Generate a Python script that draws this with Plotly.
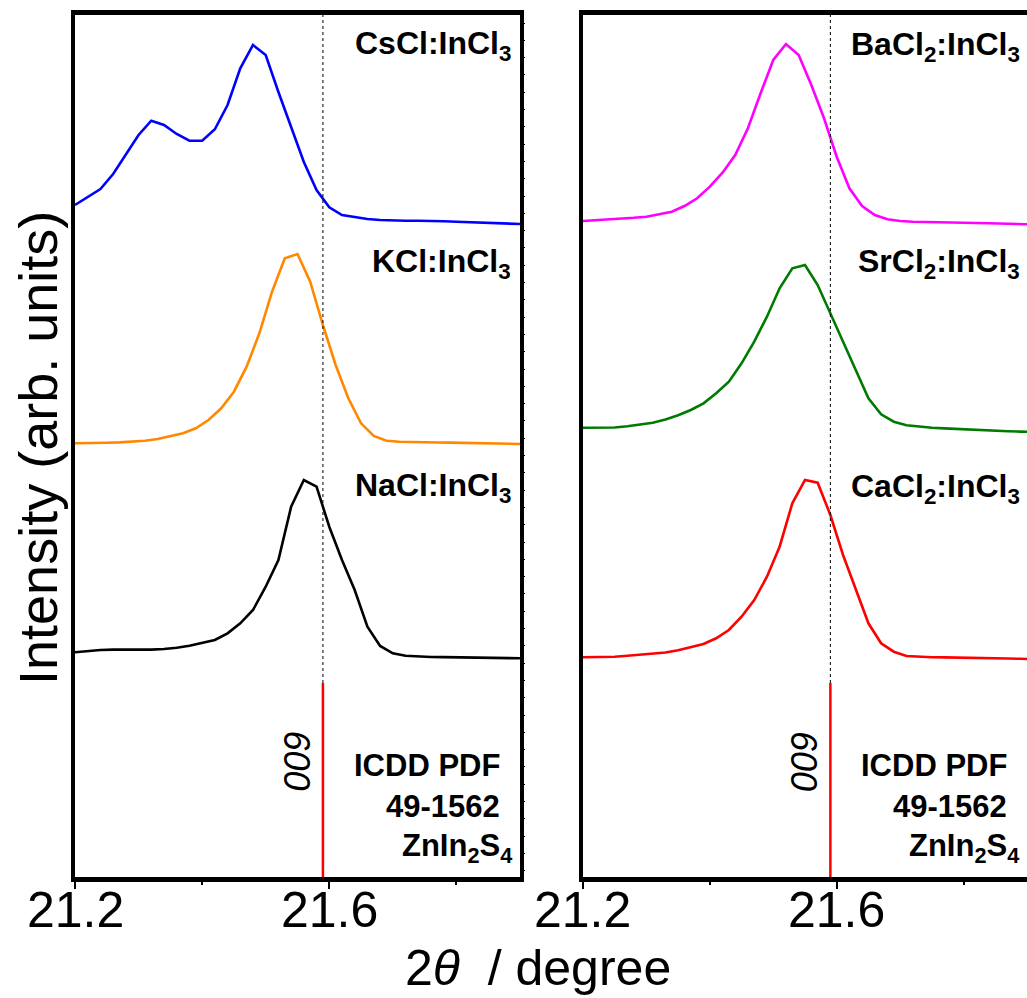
import plotly.graph_objects as go

# ---------------- data ----------------
X_EVEN = [21.20, 21.22, 21.24, 21.26, 21.28, 21.30, 21.32, 21.34, 21.36, 21.38,
          21.40, 21.42, 21.44, 21.46, 21.48, 21.50, 21.52, 21.54, 21.56, 21.58,
          21.60, 21.62, 21.64, 21.66, 21.68, 21.70, 21.72, 21.74, 21.76, 21.78,
          21.80, 21.82, 21.84, 21.86, 21.88, 21.90]
X_ODD = [21.20, 21.21, 21.23, 21.25, 21.27, 21.29, 21.31, 21.33, 21.35, 21.37,
         21.39, 21.41, 21.43, 21.45, 21.47, 21.49, 21.51, 21.53, 21.55, 21.57,
         21.59, 21.61, 21.63, 21.65, 21.67, 21.69, 21.71, 21.73, 21.75, 21.77,
         21.79, 21.81, 21.83, 21.85, 21.87, 21.89, 21.90]

cscl = [19, 26.7, 35, 50, 70, 89, 103.3, 99, 90, 83.3, 83.3, 94.7, 119, 155.7,
        179, 169, 132, 97, 62, 34, 16.7, 9, 6.7, 5, 4, 3.5, 3.3, 3.3, 3.3, 2.7,
        2.2, 1.7, 1.3, 0.9, 0.6, 0]
kcl = [0.7, 0.7, 0.9, 1.2, 1.6, 2.2, 3.2, 5.0, 7.5, 10.7, 15.7, 24, 35.7, 52.3,
       77.3, 110.7, 152.3, 185.7, 190, 162.3, 119, 79, 45.7, 20.7, 8, 3.3, 2.2,
       1.8, 1.6, 1.5, 1.4, 1.2, 1.0, 0.7, 0.4, 0.1, 0]
nacl = [6, 7.3, 8.3, 8.7, 8.5, 8.5, 8.7, 9.3, 10.5, 12.5, 15.5, 18.3, 25, 35,
        48.3, 71.6, 98.3, 151.6, 178.3, 171.6, 131.6, 98.3, 68.3, 31.6, 12.3, 5,
        2.5, 1.6, 1.3, 1.2, 1.1, 1.0, 0.8, 0.6, 0.3, 0]
bacl2 = [3.3, 4, 4.5, 5.5, 6.5, 7.6, 10, 12.6, 18.3, 26, 37.6, 51.6, 69.3, 96,
         131, 164.3, 180.3, 169.3, 139.3, 106, 67.6, 36, 18.3, 9.3, 5, 3.3, 2.6,
         2.2, 2, 1.8, 1.6, 1.3, 1.0, 0.7, 0.3, 0]
srcl2 = [4, 4, 4, 4.2, 5.5, 7.3, 9, 12.3, 16.5, 21.7, 28.4, 38.4, 50, 68.4, 90,
         115, 143.4, 163.4, 166.7, 146.7, 118.4, 90, 63.4, 33.4, 17.4, 10, 6.5, 5,
         4, 3.3, 2.6, 1.9, 1.1, 0.6, 0.4, 0.1, 0]
cacl2 = [1.7, 1.7, 1.7, 2.3, 3.2, 4.3, 5.3, 6.5, 8.7, 11.5, 15, 20.7, 29, 42.3,
         59, 82.3, 112.3, 155.7, 179, 176.3, 144, 104, 69.7, 35.7, 15.7, 7.3, 3,
         2, 1.7, 1.6, 1.5, 1.3, 1.1, 0.8, 0.5, 0.2, 0]

labels_left = ["CsCl:InCl<sub>3</sub>", "KCl:InCl<sub>3</sub>", "NaCl:InCl<sub>3</sub>"]
labels_right = ["BaCl<sub>2</sub>:InCl<sub>3</sub>", "SrCl<sub>2</sub>:InCl<sub>3</sub>",
                "CaCl<sub>2</sub>:InCl<sub>3</sub>"]
offsets_left = [653, 433, 218.7]
offsets_right = [652.7, 445.3, 218]

ref_peak_pos = 21.59          # ZnIn2S4 (009), ICDD PDF 49-1562
ref_peak_int = 194
ref_hkl = "009"
ref_lines = ["ICDD PDF", "49-1562", "ZnIn<sub>2</sub>S<sub>4</sub>"]

x_ticks = [21.2, 21.6]
x_ticklabels = ["21.2", "21.6"]
x_minor_ticks = [21.4, 21.8]

# ---------------- styling ----------------
FONT = "Liberation Sans, Arial, sans-serif"
colors_left = ["#0000ff", "#ff8800", "#000000"]
colors_right = ["#ff00ff", "#007a00", "#ff0000"]
YMAX = 862

fig = go.Figure()

left_series = [(X_EVEN, cscl), (X_ODD, kcl), (X_EVEN, nacl)]
right_series = [(X_EVEN, bacl2), (X_ODD, srcl2), (X_ODD, cacl2)]

for (xs, ys), off, col in zip(left_series, offsets_left, colors_left):
    fig.add_trace(go.Scatter(x=xs, y=[v + off for v in ys], mode="lines",
                             line=dict(color=col, width=2.6), xaxis="x", yaxis="y",
                             showlegend=False, hoverinfo="skip"))
for (xs, ys), off, col in zip(right_series, offsets_right, colors_right):
    fig.add_trace(go.Scatter(x=xs, y=[v + off for v in ys], mode="lines",
                             line=dict(color=col, width=2.6), xaxis="x2", yaxis="y2",
                             showlegend=False, hoverinfo="skip"))

for xa, ya in (("x", "y"), ("x2", "y2")):
    fig.add_trace(go.Scatter(x=[ref_peak_pos, ref_peak_pos], y=[ref_peak_int, YMAX],
                             mode="lines", line=dict(color="black", width=1, dash="dot"),
                             xaxis=xa, yaxis=ya, showlegend=False, hoverinfo="skip"))
    fig.add_trace(go.Scatter(x=[ref_peak_pos, ref_peak_pos], y=[0, ref_peak_int],
                             mode="lines", line=dict(color="#ff0000", width=2.5),
                             xaxis=xa, yaxis=ya, showlegend=False, hoverinfo="skip"))

axis_common = dict(range=[21.2, 21.9], tickvals=x_ticks, showticklabels=False,
                   ticks="outside", ticklen=7, tickwidth=2, tickcolor="black",
                   showline=True, linewidth=4.5, linecolor="black", mirror=True,
                   showgrid=False, zeroline=False,
                   minor=dict(ticks="outside", ticklen=3, tickwidth=1.5,
                              tickcolor="black", tickvals=x_minor_ticks))

fig.update_layout(
    width=1027, height=998,
    margin=dict(l=75, r=0, t=15, b=121),
    paper_bgcolor="white", plot_bgcolor="white",
    xaxis=dict(domain=[0, 0.4674], anchor="y", **axis_common),
    xaxis2=dict(domain=[0.5336, 1.0], anchor="y2", **axis_common),
    yaxis=dict(range=[0, YMAX], showticklabels=False, ticks="", showgrid=False,
               zeroline=False, showline=True, linewidth=4, linecolor="black",
               mirror=True, anchor="x"),
    yaxis2=dict(range=[0, YMAX], showticklabels=False, ticks="", showgrid=False,
                zeroline=False, showline=True, linewidth=4, linecolor="black",
                mirror=False, anchor="x2"),
    yaxis3=dict(range=[0, YMAX], overlaying="y", anchor="x", side="right",
                showticklabels=False, ticks="outside", ticklen=4, tickwidth=1.2,
                tickcolor="black", tick0=6.3, dtick=17.3, showgrid=False,
                zeroline=False, showline=False),
)
# an invisible trace so yaxis3 is rendered
fig.add_trace(go.Scatter(x=[21.2], y=[0], xaxis="x", yaxis="y3", mode="markers",
                         marker=dict(size=0.1, color="rgba(0,0,0,0)"),
                         showlegend=False, hoverinfo="skip"))

ann = []
# x tick labels (placed close to the axis as in the reference)
for xr in ("x", "x2"):
    for tv, tt in zip(x_ticks, x_ticklabels):
        ann.append(dict(x=tv, y=-0.0383, xref=xr, yref="paper", text=tt,
                        showarrow=False, xanchor="center", yanchor="middle",
                        font=dict(family=FONT, size=50, color="black")))

lab_y = [832, 614, 390]
for txt, yy in zip(labels_left, lab_y):
    ann.append(dict(x=21.889, y=yy, xref="x", yref="y", text="<b>" + txt + "</b>",
                    showarrow=False, xanchor="right", yanchor="middle",
                    font=dict(family=FONT, size=32, color="black")))
lab_y2 = [831, 614, 389]
for txt, yy in zip(labels_right, lab_y2):
    ann.append(dict(x=21.892, y=yy, xref="x2", yref="y2", text="<b>" + txt + "</b>",
                    showarrow=False, xanchor="right", yanchor="middle",
                    font=dict(family=FONT, size=32, color="black")))

for xr, yr in (("x", "y"), ("x2", "y2")):
    for txt, xx, yy in zip(ref_lines, [21.872, 21.872, 21.891], [112, 71, 29]):
        ann.append(dict(x=xx, y=yy, xref=xr, yref=yr, text="<b>" + txt + "</b>",
                        showarrow=False, xanchor="right", yanchor="middle",
                        font=dict(family=FONT, size=31, color="black")))
    ann.append(dict(x=21.549, y=115, xref=xr, yref=yr, text="<i>" + ref_hkl + "</i>",
                    showarrow=False, xanchor="center", yanchor="middle", textangle=-90,
                    font=dict(family=FONT, size=36, color="black")))

ann.append(dict(x=-0.0389, y=0.4977, xref="paper", yref="paper",
                text="Intensity (arb. units)", textangle=-90, showarrow=False,
                xanchor="center", yanchor="middle",
                font=dict(family=FONT, size=54, color="black")))
ann.append(dict(x=0.486, y=-0.106, xref="paper", yref="paper",
                text="2<i>θ</i>  / degree", showarrow=False,
                xanchor="center", yanchor="middle",
                font=dict(family=FONT, size=50, color="black")))
fig.update_layout(annotations=ann)

fig.write_html("out.html", config={"displayModeBar": False},
               post_script="document.body.style.margin='0';"
                           "document.body.style.overflow='hidden';")
